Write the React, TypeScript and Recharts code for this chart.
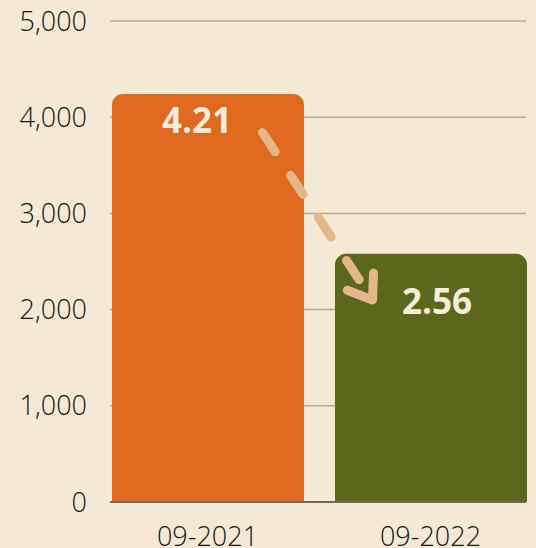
import React from "react";
import {
  BarChart,
  Bar,
  XAxis,
  YAxis,
  CartesianGrid,
  Cell,
  LabelList,
  ReferenceLine,
} from "recharts";

const categories = ["09-2021", "09-2022"];
const values = [4240, 2580];
const valueLabels = ["4.21", "2.56"];
const yTicks = [0, 1000, 2000, 3000, 4000, 5000];
const barColors = ["#df691f", "#5c671e"];
// arrow runs from a point over the first bar down to the second one
const arrowFrom = 3840;
const arrowTo = 2100;

const data = categories.map((name, i) => ({
  name,
  value: values[i],
  label: valueLabels[i],
}));

const FONT = '"Open Sans", sans-serif';

function BarValueLabel(props: any) {
  const { x, y, width, index } = props;
  const dx = index === 0 ? -11 : 6;
  const dy = index === 0 ? 39 : 60;
  return (
    <text
      x={x + width / 2 + dx}
      y={y + dy}
      textAnchor="middle"
      fill="#f6ecd8"
      fontFamily={FONT}
      fontWeight={700}
      fontSize={35}
    >
      {valueLabels[index]}
    </text>
  );
}

function DashedArrow(props: any) {
  const { x1, y1, x2, y2 } = props;
  if (x1 == null || x2 == null) return null;
  const sx = x1 + 55;
  const ex = x2 - 58;
  const ang = Math.atan2(y2 - y1, ex - sx);
  const arm = 27;
  const spread = 0.62;
  const a1x = ex - arm * Math.cos(ang - spread);
  const a1y = y2 - arm * Math.sin(ang - spread);
  const a2x = ex - arm * Math.cos(ang + spread);
  const a2y = y2 - arm * Math.sin(ang + spread);
  const stroke = "#e4b78a";
  return (
    <g>
      <line
        x1={sx}
        y1={y1}
        x2={ex - 3 * Math.cos(ang)}
        y2={y2 - 3 * Math.sin(ang)}
        stroke={stroke}
        strokeWidth={9}
        strokeLinecap="round"
        strokeDasharray="23 28"
      />
      <polyline
        points={`${a1x},${a1y} ${ex},${y2} ${a2x},${a2y}`}
        fill="none"
        stroke={stroke}
        strokeWidth={9}
        strokeLinecap="round"
        strokeLinejoin="round"
      />
    </g>
  );
}

const tickStyle = {
  fontSize: 27,
  fill: "#151515",
  fontFamily: FONT,
  fontWeight: 300,
};

export default function App() {
  return (
    <div
      style={{
        position: "fixed",
        left: 0,
        top: 0,
        width: 536,
        height: 548,
        background: "#f3e9d4",
        overflow: "hidden",
      }}
    >
      <BarChart
        width={536}
        height={548}
        data={data}
        margin={{ top: 21, right: 10, left: 0, bottom: 0 }}
      >
        <CartesianGrid
          vertical={false}
          stroke="#b4ab97"
          strokeWidth={1.5}
        />
        <XAxis
          dataKey="name"
          height={46}
          padding={{ left: -14, right: -16 }}
          tickLine={false}
          axisLine={{ stroke: "#6b655a", strokeWidth: 2 }}
          tickMargin={19}
          tick={tickStyle}
        />
        <YAxis
          width={110}
          domain={[0, 5000]}
          ticks={yTicks}
          tickLine={false}
          axisLine={false}
          tickMargin={17}
          tickFormatter={(v: number) => v.toLocaleString("en-US")}
          tick={tickStyle}
        />
        <Bar
          dataKey="value"
          barSize={192}
          radius={[11, 11, 0, 0]}
          isAnimationActive={false}
        >
          {data.map((entry, index) => (
            <Cell key={entry.name} fill={barColors[index]} />
          ))}
          <LabelList dataKey="label" content={<BarValueLabel />} />
        </Bar>
        <ReferenceLine
          segment={[
            { x: categories[0], y: arrowFrom },
            { x: categories[1], y: arrowTo },
          ]}
          shape={(p: any) => <DashedArrow {...p} />}
        />
      </BarChart>
    </div>
  );
}
